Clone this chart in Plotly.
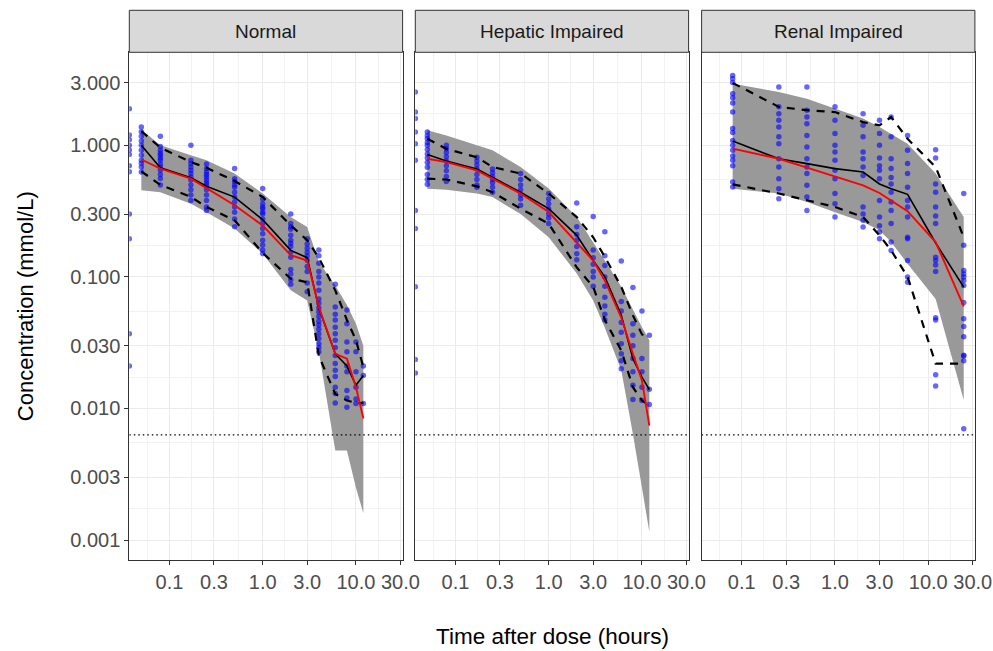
import math
import plotly.graph_objects as go

W, H = 993, 651

# ---------------- data ----------------
strip_labels = ["Normal", "Hepatic Impaired", "Renal Impaired"]

times_nh = [0.05, 0.08, 0.17, 0.25, 0.5, 1, 2, 3, 4, 6, 8, 10, 12]
times_renal = [0.08, 0.25, 0.5, 1, 2, 3, 4, 6, 12, 24]

lloq = 0.0063  # mmol/L

# Normal
normal_pi_lo = [0.455, 0.44, 0.36, 0.31, 0.233, 0.15, 0.079, 0.066, 0.027, 0.0048, 0.0048, 0.0025, 0.0016]
normal_pi_hi = [1.32, 1.0, 0.84, 0.77, 0.61, 0.43, 0.285, 0.239, 0.13, 0.086, 0.061, 0.044, 0.030]
normal_obs_p05 = [0.634, 0.50, 0.405, 0.34, 0.269, 0.152, 0.097, 0.091, 0.025, 0.0129, 0.0115, 0.011, 0.011]
normal_obs_p50 = [1.0, 0.676, 0.568, 0.488, 0.404, 0.272, 0.159, 0.14, 0.058, 0.026, 0.021, 0.015, 0.0178]
normal_obs_p95 = [1.28, 0.96, 0.746, 0.676, 0.535, 0.405, 0.246, 0.19, 0.14, 0.079, 0.047, 0.033, 0.0206]
normal_sim_p50 = [0.78, 0.665, 0.558, 0.473, 0.35, 0.246, 0.146, 0.133, 0.059, 0.026, 0.0239, 0.0145, 0.0084]
normal_obs = {
    0: [1.9, 1.2, 1.1, 1.0, 0.92, 0.85, 0.7, 0.63, 0.30, 0.195, 0.037, 0.021],
    0.05: [1.38, 1.27, 1.17, 1.08, 1.0, 0.916, 0.84, 0.77, 0.73, 0.684, 0.627],
    0.08: [1.17, 0.98, 0.916, 0.87, 0.84, 0.8, 0.77, 0.72, 0.684, 0.647, 0.6, 0.56, 0.5],
    0.17: [1.0, 0.77, 0.726, 0.684, 0.647, 0.61, 0.575, 0.545, 0.5, 0.46, 0.42, 0.38],
    0.25: [0.72, 0.665, 0.627, 0.6, 0.575, 0.545, 0.52, 0.5, 0.46, 0.42, 0.38, 0.34, 0.32],
    0.5: [0.665, 0.558, 0.53, 0.5, 0.48, 0.44, 0.404, 0.37, 0.34, 0.31, 0.275, 0.24],
    1: [0.47, 0.39, 0.36, 0.34, 0.33, 0.31, 0.3, 0.275, 0.255, 0.233, 0.213, 0.19, 0.175, 0.16, 0.15],
    2: [0.30, 0.255, 0.24, 0.23, 0.207, 0.19, 0.18, 0.17, 0.154, 0.141, 0.114, 0.105, 0.095, 0.088],
    3: [0.195, 0.178, 0.165, 0.154, 0.144, 0.134, 0.12, 0.11, 0.09, 0.077],
    4: [0.16, 0.145, 0.127, 0.11, 0.1, 0.09, 0.079, 0.068, 0.063, 0.058, 0.054, 0.05, 0.046,
        0.043, 0.04, 0.037, 0.034, 0.031, 0.029, 0.027],
    6: [0.088, 0.059, 0.052, 0.047, 0.0415, 0.037, 0.033, 0.029, 0.0253, 0.022, 0.0195,
        0.0175, 0.0145, 0.013, 0.011],
    8: [0.056, 0.044, 0.032, 0.027, 0.021, 0.019, 0.0137, 0.012, 0.0102],
    10: [0.032, 0.027, 0.019, 0.0145, 0.0118, 0.0109],
    12: [0.021, 0.0178, 0.0109],
}

# Hepatic impaired
hepatic_pi_lo = [0.468, 0.46, 0.43, 0.404, 0.30, 0.2, 0.106, 0.066, 0.041, 0.0195, 0.0064, 0.0025, 0.00115]
hepatic_pi_hi = [1.3, 1.19, 1.0, 0.916, 0.684, 0.47, 0.285, 0.184, 0.133, 0.084, 0.056, 0.0415, 0.033]
hepatic_obs_p05 = [0.558, 0.55, 0.488, 0.44, 0.33, 0.254, 0.118, 0.084, 0.047, 0.0276, 0.0145, 0.0115, 0.0105]
hepatic_obs_p50 = [0.85, 0.76, 0.66, 0.57, 0.44, 0.33, 0.207, 0.133, 0.1, 0.051, 0.0239, 0.0173, 0.0139]
hepatic_obs_p95 = [1.12, 0.94, 0.81, 0.684, 0.61, 0.43, 0.285, 0.2, 0.142, 0.084, 0.051, 0.0365, 0.035]
hepatic_sim_p50 = [0.79, 0.746, 0.645, 0.558, 0.43, 0.311, 0.184, 0.133, 0.094, 0.049, 0.026, 0.0163, 0.0074]
hepatic_obs = {
    0: [2.54, 1.79, 1.6, 1.26, 1.03, 0.77, 0.32, 0.233, 0.084, 0.0235, 0.0186],
    0.05: [1.26, 1.18, 1.12, 1.05, 1.0, 0.93, 0.86, 0.8, 0.74, 0.68, 0.6, 0.55, 0.505],
    0.08: [1.0, 0.94, 0.88, 0.82, 0.76, 0.7, 0.64, 0.58, 0.53],
    0.17: [0.81, 0.76, 0.71, 0.66, 0.6, 0.55, 0.5, 0.48],
    0.25: [0.66, 0.62, 0.58, 0.55, 0.52, 0.48, 0.44],
    0.5: [0.61, 0.55, 0.5, 0.46, 0.42, 0.39, 0.35],
    1: [0.43, 0.39, 0.36, 0.33, 0.3, 0.28, 0.255],
    2: [0.364, 0.24, 0.21, 0.19, 0.17, 0.15, 0.135],
    3: [0.288, 0.16, 0.14, 0.125, 0.11, 0.1, 0.085],
    4: [0.22, 0.145, 0.122, 0.1, 0.085, 0.07, 0.06, 0.052, 0.047],
    6: [0.132, 0.065, 0.055, 0.045, 0.038, 0.031, 0.026, 0.023, 0.02],
    8: [0.083, 0.044, 0.036, 0.03, 0.024, 0.019, 0.015, 0.0117],
    10: [0.055, 0.024, 0.019, 0.0145, 0.0115],
    12: [0.036, 0.014, 0.0107],
}

# Renal impaired
renal_pi_lo = [0.468, 0.43, 0.37, 0.31, 0.261, 0.226, 0.184, 0.126, 0.068, 0.0116]
renal_pi_hi = [2.94, 2.54, 2.26, 1.9, 1.6, 1.38, 1.23, 1.03, 0.61, 0.285]
renal_obs_p05 = [0.505, 0.43, 0.382, 0.34, 0.285, 0.207, 0.159, 0.1, 0.0219, 0.0219]
renal_obs_p50 = [1.08, 0.79, 0.726, 0.665, 0.627, 0.508, 0.468, 0.424, 0.181, 0.0836]
renal_obs_p95 = [2.98, 1.96, 1.85, 1.79, 1.5, 1.42, 1.64, 1.12, 0.684, 0.2]
renal_sim_p50 = [0.944, 0.79, 0.676, 0.581, 0.496, 0.434, 0.382, 0.316, 0.184, 0.0597]
renal_obs = {
    0.08: [3.4, 3.2, 3.0, 2.47, 2.3, 2.1, 1.79, 1.34, 1.25, 1.09, 1.0, 0.916, 0.83, 0.77, 0.7, 0.526, 0.482],
    0.25: [2.77, 1.96, 1.74, 1.55, 1.38, 1.16, 1.03, 0.79, 0.684, 0.558, 0.468, 0.393],
    0.5: [2.77, 1.85, 1.64, 1.46, 1.19, 0.97, 0.79, 0.684, 0.61, 0.497, 0.404, 0.32],
    1: [1.96, 1.55, 1.23, 1.0, 0.89, 0.77, 0.645, 0.558, 0.43, 0.36, 0.285],
    2: [1.74, 1.42, 1.16, 0.89, 0.79, 0.684, 0.59, 0.34, 0.30, 0.269, 0.239],
    3: [1.55, 1.23, 1.0, 0.8, 0.7, 0.645, 0.558, 0.38, 0.285, 0.245, 0.219, 0.195],
    4: [1.64, 1.16, 0.79, 0.665, 0.57, 0.508, 0.44, 0.37, 0.32, 0.255, 0.184, 0.159],
    6: [1.19, 0.916, 0.726, 0.61, 0.48, 0.38, 0.34, 0.285, 0.2, 0.195, 0.133, 0.1, 0.091],
    12: [0.925, 0.8, 0.508, 0.44, 0.34, 0.29, 0.255, 0.141, 0.133, 0.123, 0.11, 0.049, 0.047, 0.018, 0.0148],
    24: [0.43, 0.174, 0.112, 0.105, 0.1, 0.094, 0.086, 0.064, 0.048, 0.042, 0.035, 0.0254, 0.025, 0.023, 0.007],
}

x_tickvals = [0.1, 0.3, 1, 3, 10, 30]
x_ticktext = ["0.1", "0.3", "1.0", "3.0", "10.0", "30.0"]
y_tickvals = [0.001, 0.003, 0.01, 0.03, 0.1, 0.3, 1, 3]
y_ticktext = ["0.001", "0.003", "0.010", "0.030", "0.100", "0.300", "1.000", "3.000"]

# ---------------- layout geometry ----------------
X_RANGE = [-1.43, 1.50]     # log10 hours
Y_RANGE = [-3.152, 0.707]   # log10 mmol/L
panel_px = [(129.3, 402.6), (415.3, 688.6), (701.6, 974.9)]
panel_top_px, panel_bot_px, strip_top_px = 52.3, 560.0, 10.3

FONT = "Liberation Sans, Arial, sans-serif"
GRID_MAJOR = "#EBEBEB"
GRID_MINOR = "#F2F2F2"
FRAME = "#333333"


def px_x(v):
    return v / W


def px_y(v):
    return 1 - v / H


def minor_breaks(majors_log):
    # midpoints between consecutive major breaks (log space), extended one step each side
    step_lo = majors_log[1] - majors_log[0]
    step_hi = majors_log[-1] - majors_log[-2]
    ext = [majors_log[0] - step_hi] + majors_log + [majors_log[-1] + step_lo]
    return [10 ** ((a + b) / 2) for a, b in zip(ext[:-1], ext[1:])]


x_minor = minor_breaks([math.log10(v) for v in x_tickvals])
y_minor = minor_breaks([math.log10(v) for v in y_tickvals])

panels = [
    (times_nh, normal_pi_lo, normal_pi_hi, normal_obs_p05, normal_obs_p50, normal_obs_p95, normal_sim_p50, normal_obs),
    (times_nh, hepatic_pi_lo, hepatic_pi_hi, hepatic_obs_p05, hepatic_obs_p50, hepatic_obs_p95, hepatic_sim_p50, hepatic_obs),
    (times_renal, renal_pi_lo, renal_pi_hi, renal_obs_p05, renal_obs_p50, renal_obs_p95, renal_sim_p50, renal_obs),
]

fig = go.Figure()
x_left = 10 ** X_RANGE[0]
x_right = 10 ** X_RANGE[1]

for i, (t, lo, hi, p05, p50, p95, sim50, obs) in enumerate(panels):
    xa = "x" if i == 0 else f"x{i + 1}"
    ya = "y" if i == 0 else f"y{i + 1}"

    # simulated 90% prediction interval
    fig.add_trace(go.Scatter(
        x=list(t) + list(t)[::-1], y=list(hi) + list(lo)[::-1],
        fill="toself", fillcolor="#999999", line=dict(width=0),
        mode="lines", hoverinfo="skip", xaxis=xa, yaxis=ya))

    # lower limit of quantification
    fig.add_trace(go.Scatter(
        x=[x_left, x_right], y=[lloq, lloq], mode="lines",
        line=dict(color="black", width=1.2, dash="1.5px,3px"),
        hoverinfo="skip", xaxis=xa, yaxis=ya))

    # observed concentrations (pre-dose samples sit on the left panel edge)
    ox, oy = [], []
    for time, vals in obs.items():
        for v in vals:
            ox.append(time if time > 0 else x_left)
            oy.append(v)
    fig.add_trace(go.Scatter(
        x=ox, y=oy, mode="markers",
        marker=dict(size=5.5, color="rgba(0,0,255,0.6)", line=dict(width=0)),
        xaxis=xa, yaxis=ya))

    # observed 5th / 95th percentiles
    for q in (p05, p95):
        fig.add_trace(go.Scatter(
            x=t, y=q, mode="lines",
            line=dict(color="black", width=2.2, dash="8px,7px"),
            xaxis=xa, yaxis=ya))

    # observed median
    fig.add_trace(go.Scatter(x=t, y=p50, mode="lines",
                             line=dict(color="black", width=1.6), xaxis=xa, yaxis=ya))
    # simulated median
    fig.add_trace(go.Scatter(x=t, y=sim50, mode="lines",
                             line=dict(color="red", width=1.9), xaxis=xa, yaxis=ya))

shapes = []
annotations = []
layout_axes = {}
for i, (x0, x1) in enumerate(panel_px):
    xk = "xaxis" if i == 0 else f"xaxis{i + 1}"
    yk = "yaxis" if i == 0 else f"yaxis{i + 1}"
    layout_axes[xk] = dict(
        domain=[px_x(x0), px_x(x1)], type="log", range=X_RANGE,
        anchor="y" if i == 0 else f"y{i + 1}", automargin=False,
        tickmode="array", tickvals=x_tickvals, ticktext=x_ticktext,
        ticks="outside", ticklen=4, tickwidth=1, tickcolor=FRAME,
        tickfont=dict(family=FONT, size=20, color="#4D4D4D"),
        showgrid=True, gridcolor=GRID_MAJOR, gridwidth=1.2,
        minor=dict(tickmode="array", tickvals=x_minor, showgrid=True,
                   gridcolor=GRID_MINOR, gridwidth=0.8, ticks=""),
        showline=True, mirror=True, linecolor=FRAME, linewidth=1,
        zeroline=False, fixedrange=True)
    layout_axes[yk] = dict(
        domain=[px_y(panel_bot_px), px_y(panel_top_px)], type="log", range=Y_RANGE,
        anchor="x" if i == 0 else f"x{i + 1}", automargin=False,
        tickmode="array", tickvals=y_tickvals, ticktext=y_ticktext,
        ticks="outside" if i == 0 else "", ticklen=4, tickwidth=1, tickcolor=FRAME,
        showticklabels=(i == 0),
        tickfont=dict(family=FONT, size=20, color="#4D4D4D"),
        showgrid=True, gridcolor=GRID_MAJOR, gridwidth=1.2,
        minor=dict(tickmode="array", tickvals=y_minor, showgrid=True,
                   gridcolor=GRID_MINOR, gridwidth=0.8, ticks=""),
        showline=True, mirror=True, linecolor=FRAME, linewidth=1,
        zeroline=False, fixedrange=True)

    # facet strip
    shapes.append(dict(type="rect", xref="paper", yref="paper",
                       x0=px_x(x0), x1=px_x(x1), y0=px_y(panel_top_px), y1=px_y(strip_top_px),
                       fillcolor="#D9D9D9", line=dict(color=FRAME, width=1), layer="above"))
    annotations.append(dict(text=strip_labels[i], xref="paper", yref="paper",
                            x=px_x((x0 + x1) / 2), y=px_y((panel_top_px + strip_top_px) / 2),
                            showarrow=False, xanchor="center", yanchor="middle",
                            font=dict(family=FONT, size=19, color="#1A1A1A")))

annotations.append(dict(text="Time after dose (hours)", xref="paper", yref="paper",
                        x=px_x((panel_px[0][0] + panel_px[2][1]) / 2), y=px_y(636),
                        showarrow=False, xanchor="center", yanchor="middle",
                        font=dict(family=FONT, size=22.5, color="black")))
annotations.append(dict(text="Concentration (mmol/L)", xref="paper", yref="paper",
                        x=px_x(25), y=px_y((panel_top_px + panel_bot_px) / 2), textangle=-90,
                        showarrow=False, xanchor="center", yanchor="middle",
                        font=dict(family=FONT, size=22, color="black")))

fig.update_layout(
    width=W, height=H,
    margin=dict(l=0, r=0, t=0, b=0),
    paper_bgcolor="white", plot_bgcolor="white",
    showlegend=False,
    shapes=shapes, annotations=annotations,
    **layout_axes,
)

fig.write_html("out.html")
